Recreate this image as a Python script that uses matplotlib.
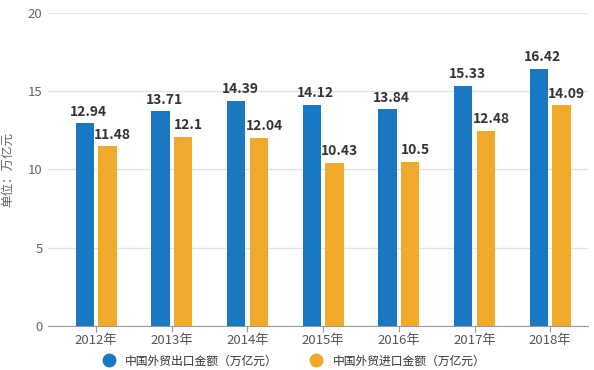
import numpy as np
import matplotlib.pyplot as plt
from matplotlib.lines import Line2D

plt.rcParams['font.family'] = ['Noto Sans CJK SC', 'DejaVu Sans']

years = ['2012年', '2013年', '2014年', '2015年', '2016年', '2017年', '2018年']
exports = [12.94, 13.71, 14.39, 14.12, 13.84, 15.33, 16.42]
imports = [11.48, 12.1, 12.04, 10.43, 10.5, 12.48, 14.09]
export_labels = ['12.94', '13.71', '14.39', '14.12', '13.84', '15.33', '16.42']
import_labels = ['11.48', '12.1', '12.04', '10.43', '10.5', '12.48', '14.09']
series_names = ['中国外贸出口金额（万亿元）', '中国外贸进口金额（万亿元）']

blue = '#1a78c2'
orange = '#f0a92b'

fig = plt.figure(figsize=(5.94, 3.70), dpi=100)
ax = fig.add_axes([0.081, 0.119, 0.909, 0.846])

x = np.arange(len(years))
w = 0.24
ax.bar(x - 0.15, exports, w, color=blue, zorder=3)
ax.bar(x + 0.15, imports, w, color=orange, zorder=3)

for i in range(len(years)):
    ax.text(x[i] - 0.1, exports[i] + 0.3, export_labels[i], ha='center', va='bottom',
            fontsize=10, fontweight='bold', color='#333333', zorder=4)
    ax.text(x[i] + 0.22, imports[i] + 0.3, import_labels[i], ha='center', va='bottom',
            fontsize=10, fontweight='bold', color='#333333', zorder=4)

ax.set_xlim(-0.634, 6.5)
ax.set_ylim(0, 20)
ax.set_yticks([0, 5, 10, 15, 20])
ax.set_xticks(x)
ax.set_xticklabels(years)
ax.grid(axis='y', color='#e2e2e2', linewidth=1, zorder=0)
for s in ['top', 'right', 'left']:
    ax.spines[s].set_visible(False)
ax.spines['bottom'].set_color('#999999')
ax.tick_params(axis='y', length=0, labelsize=9.5, labelcolor='#666666', pad=4)
ax.tick_params(axis='x', length=4, color='#999999', labelsize=9.5, labelcolor='#555555', pad=2)
ax.set_ylabel('单位：万亿元', fontsize=9, color='#666666', labelpad=10)

handles = [Line2D([], [], marker='o', linestyle='', markersize=9, color=blue),
           Line2D([], [], marker='o', linestyle='', markersize=9, color=orange)]
fig.legend(handles, series_names, loc='center', bbox_to_anchor=(0.49, 0.024), ncol=2,
           frameon=False, fontsize=8.5, handletextpad=0.4, columnspacing=2.2,
           labelcolor='#333333', borderpad=0)

fig.savefig('out.png', dpi=100)
